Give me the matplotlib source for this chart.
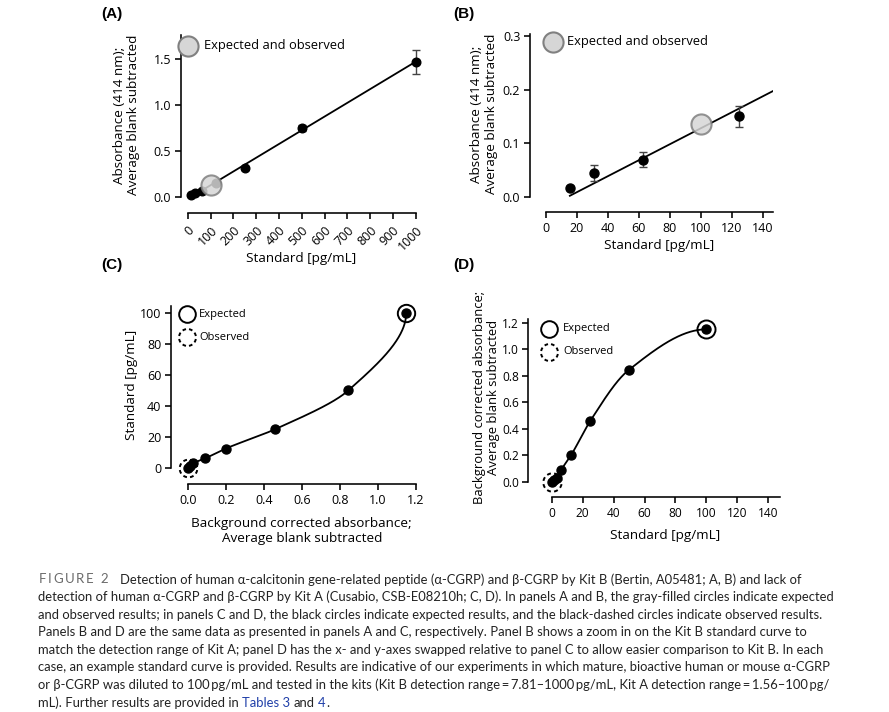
import numpy as np
import matplotlib
matplotlib.use("Agg")
import matplotlib.pyplot as plt
from matplotlib.path import Path

# ---------------- data ----------------
# Kit B (panels A, B)
kitB_std = [15.6, 31.25, 62.5, 125, 250, 500, 1000]
kitB_abs = [0.017, 0.045, 0.069, 0.150, 0.31, 0.75, 1.47]
kitB_err = [0.003, 0.015, 0.014, 0.019, 0.02, 0.03, 0.13]
kitB_target_std = 100
kitB_target_abs = 0.135

# Kit A (panels C, D)
kitA_std = [0, 1.56, 3.12, 6.25, 12.5, 25, 50, 100]
kitA_abs = [0.0, 0.012, 0.03, 0.092, 0.2, 0.46, 0.845, 1.15]
kitA_expected = (100, 1.15)   # (standard, absorbance)
kitA_observed = (0, 0.0)

A_xticks = list(range(0, 1001, 100))
A_yticks = [0.0, 0.5, 1.0, 1.5]
B_xticks = list(range(0, 141, 20))
B_yticks = [0.0, 0.1, 0.2, 0.3]
C_xticks = [0.0, 0.2, 0.4, 0.6, 0.8, 1.0, 1.2]
C_yticks = [0, 20, 40, 60, 80, 100]
D_xticks = list(range(0, 141, 20))
D_yticks = [0.0, 0.2, 0.4, 0.6, 0.8, 1.0, 1.2]

caption_lines = [
    "Detection of human \u03b1-calcitonin gene-related peptide (\u03b1-CGRP) and \u03b2-CGRP by Kit B (Bertin, A05481; A, B) and lack of",
    "detection of human \u03b1-CGRP and \u03b2-CGRP by Kit A (Cusabio, CSB-E08210h; C, D). In panels A and B, the gray-filled circles indicate expected",
    "and observed results; in panels C and D, the black circles indicate expected results, and the black-dashed circles indicate observed results.",
    "Panels B and D are the same data as presented in panels A and C, respectively. Panel B shows a zoom in on the Kit B standard curve to",
    "match the detection range of Kit A; panel D has the x- and y-axes swapped relative to panel C to allow easier comparison to Kit B. In each",
    "case, an example standard curve is provided. Results are indicative of our experiments in which mature, bioactive human or mouse \u03b1-CGRP",
    "or \u03b2-CGRP was diluted to 100\u2009pg/mL and tested in the kits (Kit B detection range\u2009=\u20097.81\u20131000\u2009pg/mL, Kit A detection range\u2009=\u20091.56\u2013100\u2009pg/",
]

# ---------------- setup ----------------
W, H = 889, 712
plt.rcParams['font.family'] = ['Open Sans', 'DejaVu Sans']
plt.rcParams['text.color'] = 'black'
fig = plt.figure(figsize=(W / 100, H / 100), dpi=100)
fig.patch.set_facecolor('white')

LW = 1.15
TICK_FS = 9
LAB_FS = 9.7


def fx(x):
    return x / W


def fy(y):
    return 1 - y / H


def make_ax(left, right, top, bottom, xlim, ylim, xb, yb, xticks, yticks, xfmt, yfmt, tfs=TICK_FS):
    ax = fig.add_axes([fx(left), fy(bottom), (right - left) / W, (bottom - top) / H])
    ax.set_xlim(xlim)
    ax.set_ylim(ylim)
    ax.patch.set_visible(False)
    for s in ['top', 'right']:
        ax.spines[s].set_visible(False)
    for s in ['left', 'bottom']:
        ax.spines[s].set_linewidth(LW)
    ax.spines['bottom'].set_bounds(*xb)
    ax.spines['left'].set_bounds(*yb)
    ax.set_xticks(xticks)
    ax.set_yticks(yticks)
    ax.set_xticklabels([xfmt(v) for v in xticks])
    ax.set_yticklabels([yfmt(v) for v in yticks])
    ax.tick_params(length=4.5, width=LW, labelsize=tfs, pad=2.5, colors='black')
    return ax


def pchip(x, y, xs):
    x = np.asarray(x, float)
    y = np.asarray(y, float)
    h = np.diff(x)
    d = np.diff(y) / h
    n = len(x)
    m = np.zeros(n)
    for k in range(1, n - 1):
        if d[k - 1] * d[k] <= 0:
            m[k] = 0
        else:
            w1 = 2 * h[k] + h[k - 1]
            w2 = h[k] + 2 * h[k - 1]
            m[k] = (w1 + w2) / (w1 / d[k - 1] + w2 / d[k])
    m[0] = ((2 * h[0] + h[1]) * d[0] - h[0] * d[1]) / (h[0] + h[1])
    if np.sign(m[0]) != np.sign(d[0]):
        m[0] = 0
    m[-1] = ((2 * h[-1] + h[-2]) * d[-1] - h[-1] * d[-2]) / (h[-1] + h[-2])
    if np.sign(m[-1]) != np.sign(d[-1]):
        m[-1] = 0
    out = np.empty_like(xs)
    idx = np.clip(np.searchsorted(x, xs) - 1, 0, n - 2)
    for i, (xv, k) in enumerate(zip(xs, idx)):
        t = (xv - x[k]) / h[k]
        h00 = 2 * t**3 - 3 * t**2 + 1
        h10 = t**3 - 2 * t**2 + t
        h01 = -2 * t**3 + 3 * t**2
        h11 = t**3 - t**2
        out[i] = h00 * y[k] + h10 * h[k] * m[k] + h01 * y[k + 1] + h11 * h[k] * m[k + 1]
    return out


def dashed_circle(n=8, frac=0.55):
    parts = []
    for i in range(n):
        a0 = 360.0 * i / n + 10
        a1 = a0 + 360.0 / n * frac
        parts.append(Path.arc(a0, a1))
    return Path.make_compound_path(*parts)


DASHED = dashed_circle()
GRAY_FC = '#d6d6d6'
GRAY_EC = '#808080'

f1 = lambda v: f"{v:.1f}"
f0 = lambda v: f"{v:.0f}"

# linear fit for Kit B
slope, intercept = np.polyfit(kitB_std, kitB_abs, 1)

# ---------------- Panel A ----------------
axA = make_ax(181, 415.7, 35, 213, (-29.4, 1000), (-0.174, 1.761), (0, 1000), (0, 1.761),
              A_xticks, A_yticks, f0, f1)
for lab in axA.get_xticklabels():
    lab.set_rotation(45)
    lab.set_ha('right')
    lab.set_va('top')
    lab.set_rotation_mode('anchor')
axA.tick_params(axis='x', pad=3)
xl = np.array([min(kitB_std), max(kitB_std)])
axA.plot(xl, slope * xl + intercept, color='black', lw=1.3, zorder=2)
axA.errorbar(kitB_std, kitB_abs, yerr=kitB_err, fmt='o', color='black', ms=6.2,
             ecolor='#444444', elinewidth=1.0, capsize=3, capthick=1.0, zorder=3, clip_on=False)
axA.plot([kitB_target_std], [kitB_target_abs], 'o', ms=14.5, mfc=GRAY_FC, mec=GRAY_EC,
         mew=1.5, alpha=0.85, zorder=4, clip_on=False)

# ---------------- Panel B ----------------
axB = make_ax(530, 773.3, 34.3, 212.3, (-10.1, 146.8), (-0.0291, 0.3032), (0, 146.8), (0, 0.3032),
              B_xticks, B_yticks, f0, f1)
sel = [i for i, v in enumerate(kitB_std) if v <= 140]
xb = np.array([min(kitB_std), 146.8])
axB.plot(xb, slope * xb + intercept, color='black', lw=1.3, zorder=2)
axB.errorbar([kitB_std[i] for i in sel], [kitB_abs[i] for i in sel],
             yerr=[kitB_err[i] for i in sel], fmt='o', color='black', ms=6.5,
             ecolor='#444444', elinewidth=1.0, capsize=3, capthick=1.0, zorder=3, clip_on=False)
axB.plot([kitB_target_std], [kitB_target_abs], 'o', ms=14.5, mfc=GRAY_FC, mec=GRAY_EC,
         mew=1.5, alpha=0.85, zorder=4, clip_on=False)

# ---------------- curves for Kit A ----------------
std_fine = np.linspace(0, 100, 300)
abs_fine = pchip(kitA_std, kitA_abs, std_fine)

# ---------------- Panel C ----------------
axC = make_ax(171, 415.7, 306, 484, (-0.0879, 1.2), (-10.32, 104.5), (0, 1.2), (0, 104.5),
              C_xticks, C_yticks, f1, f0)
axC.plot(abs_fine, std_fine, color='black', lw=1.3, zorder=2, clip_on=False)
axC.plot(kitA_abs, kitA_std, 'o', color='black', ms=6.5, zorder=3, clip_on=False)
axC.plot([kitA_expected[1]], [kitA_expected[0]], 'o', ms=12.5, mfc='none', mec='black',
         mew=1.4, zorder=4, clip_on=False)
axC.plot([kitA_observed[1]], [kitA_observed[0]], marker=DASHED, ms=12.5, mfc='none',
         mec='black', mew=1.4, ls='none', zorder=4, clip_on=False)

# ---------------- Panel D ----------------
axD = make_ax(528, 780, 319.3, 497, (-15.32, 147.6), (-0.1155, 1.2257), (0, 147.6), (0, 1.2257),
              D_xticks, D_yticks, f0, f1, tfs=8.6)
axD.tick_params(axis='y', pad=2)
axD.plot(std_fine, abs_fine, color='black', lw=1.3, zorder=2, clip_on=False)
axD.plot(kitA_std, kitA_abs, 'o', color='black', ms=6.5, zorder=3, clip_on=False)
axD.plot([kitA_expected[0]], [kitA_expected[1]], 'o', ms=13, mfc='none', mec='black',
         mew=1.4, zorder=4, clip_on=False)
axD.plot([kitA_observed[0]], [kitA_observed[1]], marker=DASHED, ms=13, mfc='none',
         mec='black', mew=1.4, ls='none', zorder=4, clip_on=False)


# ---------------- legends ----------------
def fig_marker(x, y, **kw):
    ln = plt.Line2D([fx(x)], [fy(y)], transform=fig.transFigure, ls='none', **kw)
    fig.add_artist(ln)


def ftext(x, y, s, **kw):
    return fig.text(fx(x), fy(y), s, **kw)


fig_marker(188.3, 46, marker='o', ms=14.5, mfc=GRAY_FC, mec=GRAY_EC, mew=1.5)
ftext(204, 46, "Expected and observed", fontsize=9.3, va='center', ha='left')
fig_marker(553, 42, marker='o', ms=14.5, mfc=GRAY_FC, mec=GRAY_EC, mew=1.5)
ftext(567.3, 42, "Expected and observed", fontsize=9.3, va='center', ha='left')

fig_marker(186.7, 314, marker='o', ms=12, mfc='none', mec='black', mew=1.4)
ftext(199, 314, "Expected", fontsize=8, va='center', ha='left')
fig_marker(186.7, 337.3, marker=DASHED, ms=12, mfc='none', mec='black', mew=1.4)
ftext(199, 337.3, "Observed", fontsize=8, va='center', ha='left')

fig_marker(549.3, 329, marker='o', ms=12, mfc='none', mec='black', mew=1.4)
ftext(563, 329, "Expected", fontsize=8, va='center', ha='left')
fig_marker(549.3, 351.7, marker=DASHED, ms=12, mfc='none', mec='black', mew=1.4)
ftext(563, 351.7, "Observed", fontsize=8, va='center', ha='left')

# ---------------- axis labels ----------------
ftext(126.7, 115, "Absorbance (414 nm);\nAverage blank subtracted", rotation=90,
      ha='center', va='center', fontsize=LAB_FS, multialignment='center', linespacing=1.15)
ftext(484, 114, "Absorbance (414 nm);\nAverage blank subtracted", rotation=90,
      ha='center', va='center', fontsize=LAB_FS, multialignment='center', linespacing=1.15)
ftext(131.7, 385, "Standard [pg/mL]", rotation=90, ha='center', va='center', fontsize=LAB_FS)
ftext(486.5, 397.5, "Background corrected absorbance;\nAverage blank subtracted", rotation=90,
      ha='center', va='center', fontsize=9.4, multialignment='center', linespacing=1.08)

ftext(300.7, 258, "Standard [pg/mL]", ha='center', va='center', fontsize=LAB_FS)
ftext(659, 246, "Standard [pg/mL]", ha='center', va='center', fontsize=LAB_FS)
ftext(301.7, 531, "Background corrected absorbance;\nAverage blank subtracted", ha='center',
      va='center', fontsize=LAB_FS, multialignment='center', linespacing=1.2)
ftext(665, 536, "Standard [pg/mL]", ha='center', va='center', fontsize=LAB_FS)

# panel letters
for lbl, x, y in [("(A)", 101, 14), ("(B)", 453, 14), ("(C)", 101, 265), ("(D)", 453, 265)]:
    ftext(x, y, lbl, ha='left', va='center', fontsize=11, fontweight='bold',
          family=['Liberation Sans', 'DejaVu Sans'])

# ---------------- caption ----------------
CAP_FAM = ['Lato', 'DejaVu Sans']
CAP_COL = '#222222'
renderer = fig.canvas.get_renderer()


def text_width(s, fs, **kw):
    t = fig.text(0, 0, s, fontsize=fs, family=CAP_FAM, **kw)
    w = t.get_window_extent(renderer).width
    t.remove()
    return w


# calibrate font size so that line 2 spans the same width as in the reference
fs_cap = 10.0 * (834 - 38.3) / text_width(caption_lines[1], 10.0)
space_w = text_width("x x", fs_cap) - text_width("xx", fs_cap)

line_y = [578.3 + 17.63 * i for i in range(8)]

# "FIGURE 2" letter-spaced
x = 38.3
for ch in "FIGURE 2":
    if ch == ' ':
        x += space_w + 1.5
        continue
    t = fig.text(fx(x), fy(line_y[0]), ch, fontsize=fs_cap * 1.02, family=CAP_FAM,
                 color='#6b6b6b', va='center_baseline', ha='left')
    x += t.get_window_extent(renderer).width + 1.8
fig.text(fx(120), fy(line_y[0]), caption_lines[0], fontsize=fs_cap, family=CAP_FAM,
         color=CAP_COL, va='center_baseline', ha='left')
for i in range(1, 7):
    fig.text(fx(38.3), fy(line_y[i]), caption_lines[i], fontsize=fs_cap, family=CAP_FAM,
             color=CAP_COL, va='center_baseline', ha='left')

segments = [("mL). Further results are provided in", CAP_COL, True),
            ("Tables 3", '#1f3ea8', True),
            ("and", CAP_COL, True),
            ("4", '#1f3ea8', False),
            (".", CAP_COL, False)]
x = 38.3
for s, c, sp in segments:
    t = fig.text(fx(x), fy(line_y[7]), s, fontsize=fs_cap, family=CAP_FAM, color=c,
                 va='center_baseline', ha='left')
    x += t.get_window_extent(renderer).width + (space_w if sp else 0)

fig.savefig("out.png", dpi=100, facecolor='white')
